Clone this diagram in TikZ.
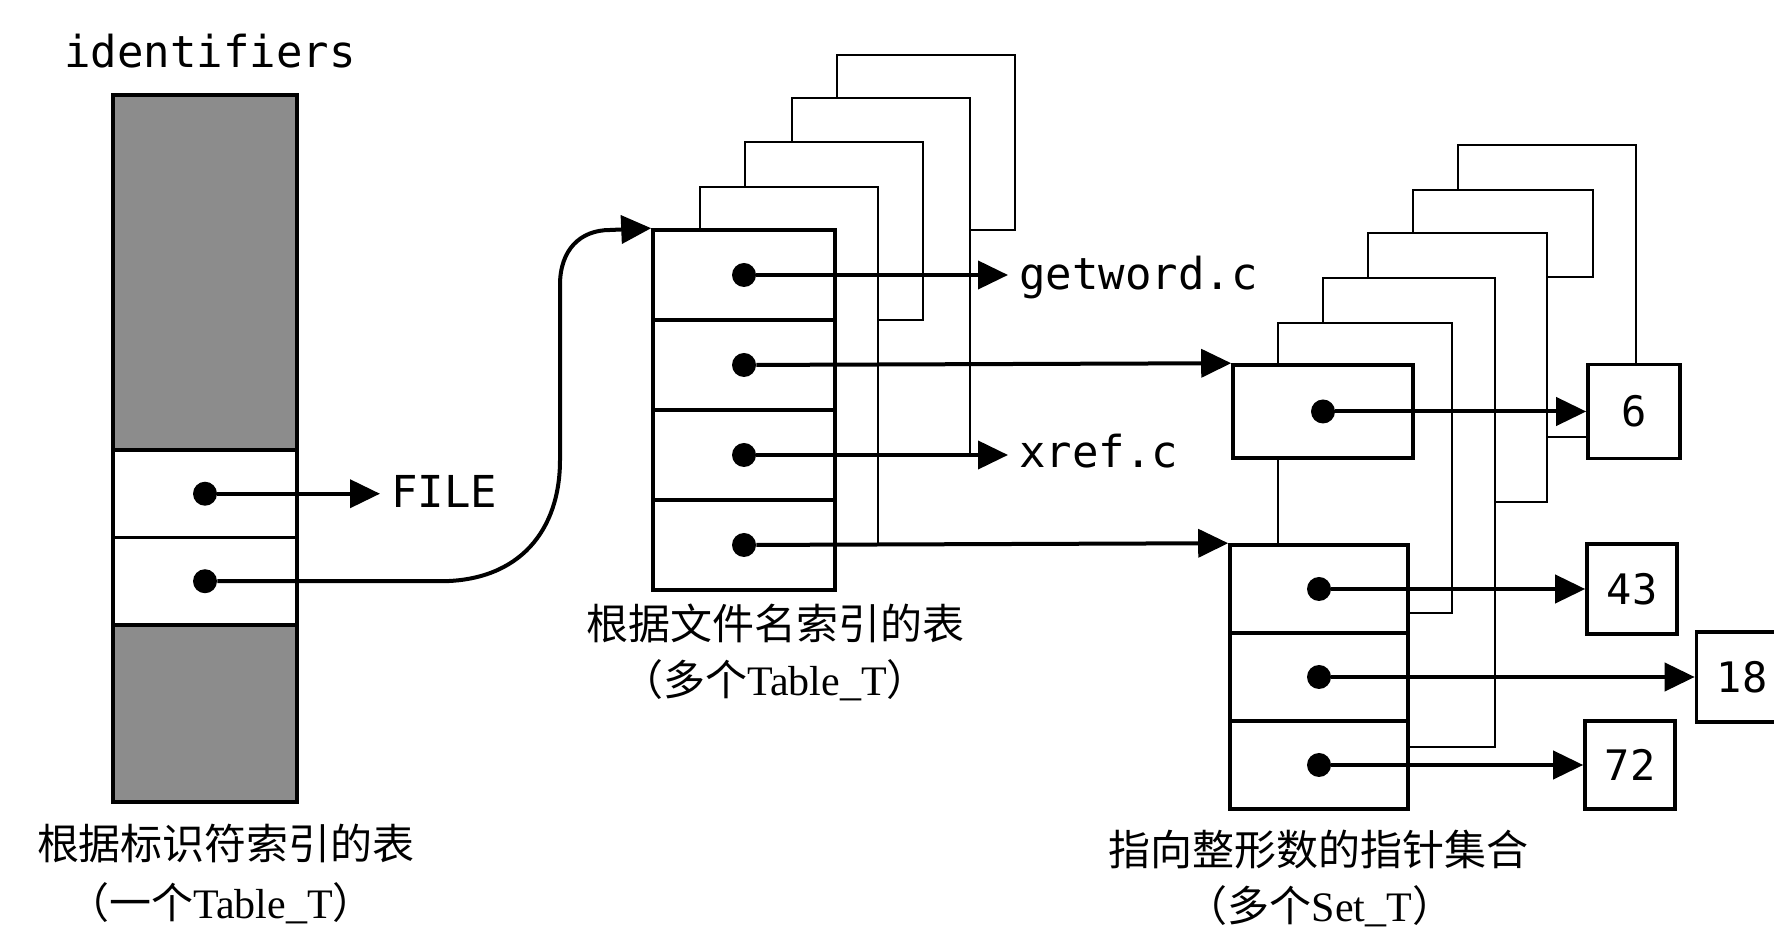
\documentclass[tikz,border=0pt]{standalone}
\usepackage{fontspec}
\setmainfont{Liberation Serif}
\setmonofont{DejaVu Sans Mono}
\newfontfamily\cjk{Noto Sans CJK SC}
\usetikzlibrary{arrows.meta}

\tikzstyle{cell}=[draw,fill=white,rectangle,line width=1.8pt,inner sep=0pt]
\tikzstyle{greycell}=[draw,fill=black!45,rectangle,line width=2pt,inner sep=0pt,minimum width=92pt]
\tikzstyle{ptrdot}=[fill=black,circle,inner sep=0pt,minimum size=12pt]
\tikzstyle{backframe}=[draw,fill=white,line width=1pt]
\tikzstyle{ptr}=[line width=2pt,-{Triangle[length=15pt,width=14pt]}]
\tikzstyle{mono}=[font=\fontsize{22}{26}\selectfont\ttfamily,inner xsep=5.5pt,inner ysep=0pt]
\tikzstyle{numbox}=[draw,fill=white,rectangle,line width=1.8pt,inner sep=0pt,minimum width=45pt,minimum height=45pt,font=\fontsize{21}{25}\selectfont\ttfamily]
\tikzstyle{capt}=[font=\fontsize{21}{25}\selectfont\cjk,inner sep=0pt]

\begin{document}
\begin{tikzpicture}[x=0.5pt,y=-0.5pt]
\useasboundingbox (0,0) rectangle (1774,929);
% \draw [help lines,step=100] (0,0) grid (1774,929);

% identifier table (one Table_T)
\node[mono,anchor=base] (id-title) at (210,68) {identifiers};
\node[greycell,minimum height=177.5pt] (id-top) at (205,272.5) {};
\node[cell,minimum width=92pt,minimum height=43.75pt] (id-row-1) at (205,493.75) {};
\node[cell,minimum width=92pt,minimum height=43.75pt] (id-row-2) at (205,581.25) {};
\node[greycell,minimum height=88.5pt] (id-bottom) at (205,713.5) {};
\node[ptrdot] (id-dot-1) at (id-row-1.center) {};
\node[ptrdot] (id-dot-2) at (id-row-2.center) {};
\node[mono,anchor=base west] (file) at (380,508) {FILE};

% file name tables, the ones behind first
\draw[backframe] (837,55) rectangle (1015,230);
\draw[backframe] (792,98) rectangle (970,455);
\draw[backframe] (745,142) rectangle (923,320);
\draw[backframe] (700,187) rectangle (878,545);

% front file name table
\node[cell,minimum width=91pt,minimum height=45pt] (file-row-1) at (744,275) {};
\node[cell,minimum width=91pt,minimum height=45pt] (file-row-2) at (744,365) {};
\node[cell,minimum width=91pt,minimum height=45pt] (file-row-3) at (744,455) {};
\node[cell,minimum width=91pt,minimum height=45pt] (file-row-4) at (744,545) {};
\node[ptrdot] (file-dot-1) at (file-row-1.center) {};
\node[ptrdot] (file-dot-2) at (file-row-2.center) {};
\node[ptrdot] (file-dot-3) at (file-row-3.center) {};
\node[ptrdot] (file-dot-4) at (file-row-4.center) {};
\node[mono,anchor=base west] (getword) at (1008,290) {getword.c};
\node[mono,anchor=base west] (xref) at (1008,468) {xref.c};

% sets of integer pointers, the ones behind first
\draw[backframe] (1458,145) rectangle (1636,437);
\draw[backframe] (1413,190) rectangle (1593,277);
\draw[backframe] (1368,233) rectangle (1547,502);
\draw[backframe] (1323,278) rectangle (1495,747);
\draw[backframe] (1278,323) rectangle (1452,613);

% front sets
\node[cell,minimum width=90pt,minimum height=46.5pt] (set-1) at (1323,411.5) {};
\node[cell,minimum width=89pt,minimum height=44pt] (set-2-row-1) at (1319,589) {};
\node[cell,minimum width=89pt,minimum height=44pt] (set-2-row-2) at (1319,677) {};
\node[cell,minimum width=89pt,minimum height=44pt] (set-2-row-3) at (1319,765) {};
\node[ptrdot] (set-1-dot) at (set-1.center) {};
\node[ptrdot] (set-2-dot-1) at (set-2-row-1.center) {};
\node[ptrdot] (set-2-dot-2) at (set-2-row-2.center) {};
\node[ptrdot] (set-2-dot-3) at (set-2-row-3.center) {};

% the integers
\node[numbox,minimum width=46pt,minimum height=47pt] (int-6) at (1634,411.5) {6};
\node[numbox] (int-43) at (1632,589) {43};
\node[numbox,minimum width=45.5pt] (int-18) at (1742,677) {18};
\node[numbox,minimum height=44pt] (int-72) at (1630,765) {72};

% bend of the pointer into the file name tables
\coordinate (bend-low) at (440,581.25);
\coordinate (rise-low) at (560,460);
\coordinate (rise-high) at (560,285);
\coordinate (bend-high) at (610,230);

% edges from the identifier table
\draw[ptr] (id-dot-1) -- (id-dot-1 -| file.west);
\draw[ptr] (id-dot-2) -- (bend-low) .. controls +(80,0) and +(0,70) .. (rise-low) -- (rise-high) .. controls +(0,-35) and +(-30,0) .. (bend-high) -- (file-row-1.north west);

% edges from the file name table
\draw[ptr] (file-dot-1) -- (file-dot-1 -| getword.west);
\draw[ptr] (file-dot-2) -- (set-1.north west);
\draw[ptr] (file-dot-3) -- (file-dot-3 -| xref.west);
\draw[ptr] (file-dot-4) -- (set-2-row-1.north west);

% edges from the sets
\draw[ptr] (set-1-dot) -- (int-6);
\draw[ptr] (set-2-dot-1) -- (int-43);
\draw[ptr] (set-2-dot-2) -- (int-18);
\draw[ptr] (set-2-dot-3) -- (int-72);

% captions
\node[capt] (id-caption) at (226,843) {根据标识符索引的表};
\node[capt] (id-caption-2) at (221,903) {（一个{\rmfamily Table\_T}）};
\node[capt] (file-caption) at (775,623) {根据文件名索引的表};
\node[capt] (file-caption-2) at (775,680) {（多个{\rmfamily Table\_T}）};
\node[capt] (set-caption) at (1318,850) {指向整形数的指针集合};
\node[capt] (set-caption-2) at (1320,906) {（多个{\rmfamily Set\_T}）};

\end{tikzpicture}
\end{document}
